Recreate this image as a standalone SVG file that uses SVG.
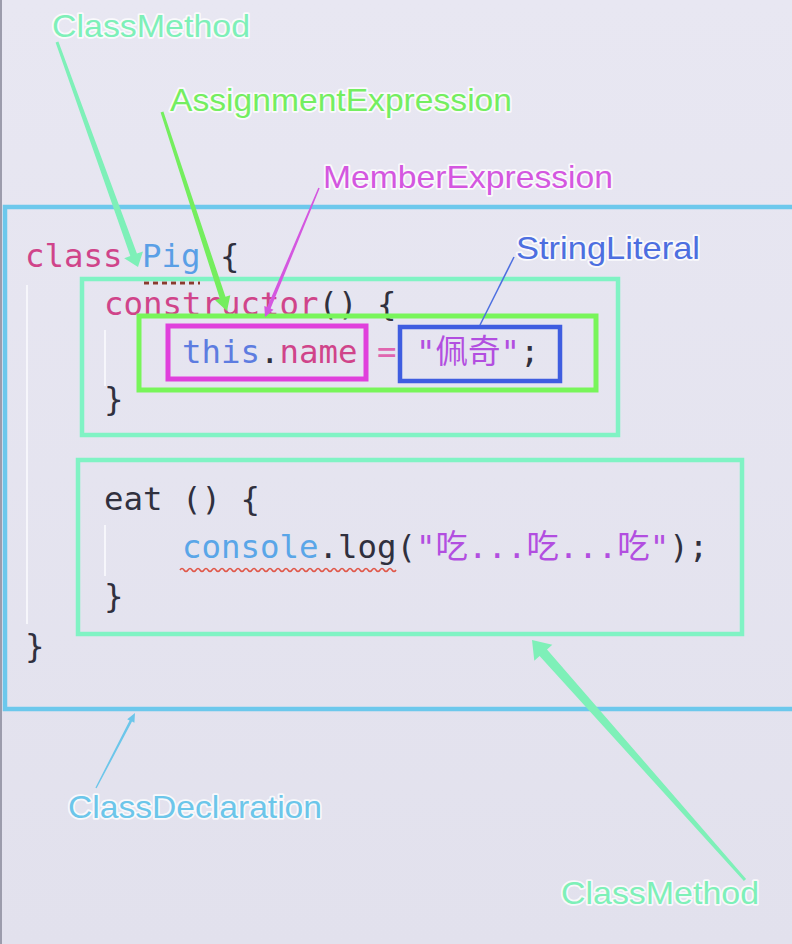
<svg xmlns="http://www.w3.org/2000/svg" width="792" height="944" viewBox="0 0 792 944">
<defs>
<linearGradient id="bg" x1="0" y1="0" x2="0" y2="1">
<stop offset="0" stop-color="#e8e7f2"/>
<stop offset="1" stop-color="#e2e1ed"/>
</linearGradient>
<style>
.code{font-family:"DejaVu Sans Mono","Liberation Mono","Noto Sans CJK SC",monospace;font-size:32.4px;fill:#30303e}
.kw{fill:#d0448a}
.cls{fill:#5a9fe6}
.this{fill:#5d7ce0}
.str{fill:#b24ee0}
.eq{fill:#e066b0}
.con{fill:#5aa6e8}
.lbl{font-family:"Liberation Sans",Arial,sans-serif;font-size:32px;stroke:#ffffff;stroke-width:3.5;stroke-opacity:.8;paint-order:stroke;stroke-linejoin:round}
.box{fill:none}
.guide{stroke:#f6f6fb;stroke-width:2}
</style>
</defs>
<rect x="0" y="0" width="792" height="944" fill="url(#bg)"/>
<line x1="1" y1="0" x2="1" y2="944" stroke="#9c9cac" stroke-width="2"/>

<g id="code">
<line class="guide" x1="27" y1="285" x2="27" y2="624"/>
<line class="guide" x1="105" y1="330" x2="105" y2="386"/>
<line class="guide" x1="105" y1="525" x2="105" y2="576"/>
<line x1="144" y1="283" x2="200" y2="283" stroke="#8b3b2f" stroke-width="3" stroke-dasharray="5,4"/>
<text class="code" x="25" y="267"><tspan class="kw">class</tspan> <tspan class="cls">Pig</tspan> {</text>
<text class="code" x="104" y="315"><tspan class="kw">constructor</tspan>() {</text>
<text class="code" x="182" y="363"><tspan class="this">this</tspan>.<tspan class="kw">name</tspan> <tspan class="eq">=</tspan> <tspan class="str">"佩奇"</tspan>;</text>
<text class="code" x="104" y="410">}</text>
<text class="code" x="104" y="510">eat () {</text>
<text class="code" x="182" y="558"><tspan class="con">console</tspan>.log(<tspan class="str">"吃...吃...吃"</tspan>);</text>
<path d="M180,570 q2,-3 4,0 t4,0 t4,0 t4,0 t4,0 t4,0 t4,0 t4,0 t4,0 t4,0 t4,0 t4,0 t4,0 t4,0 t4,0 t4,0 t4,0 t4,0 t4,0 t4,0 t4,0 t4,0 t4,0 t4,0 t4,0 t4,0 t4,0 t4,0 t4,0 t4,0 t4,0 t4,0 t4,0 t4,0 t4,0 t4,0 t4,0 t4,0 t4,0 t4,0 t4,0 t4,0 t4,0 t4,0 t4,0 t4,0 t4,0 t4,0 t4,0 t4,0 t4,0 t4,0 t4,0 t4,0" fill="none" stroke="#e0584a" stroke-width="1.6"/>
<text class="code" x="104" y="607">}</text>
<text class="code" x="25" y="657">}</text>
</g>

<g id="classDeclaration">
<rect class="box" x="5" y="207" width="800" height="502" stroke="#6cc8ec" stroke-width="4.5"/>
<text class="lbl" x="68" y="818" textLength="254" lengthAdjust="spacingAndGlyphs" fill="#6cc6ea">ClassDeclaration</text>
</g>

<g id="classMethodConstructor">
<rect class="box" x="82" y="279" width="536" height="156" stroke="#80f3c4" stroke-width="4.5"/>
<text class="lbl" x="52" y="37" textLength="198" lengthAdjust="spacingAndGlyphs" fill="#7ef0b8">ClassMethod</text>
</g>

<g id="classMethodEat">
<rect class="box" x="78" y="460" width="664" height="174" stroke="#80f3c4" stroke-width="4.5"/>
<text class="lbl" x="561" y="904" textLength="198" lengthAdjust="spacingAndGlyphs" fill="#7ef0b8">ClassMethod</text>
</g>

<g id="assignmentExpression">
<rect class="box" x="139" y="316" width="457" height="74" stroke="#78f55a" stroke-width="5"/>
<text class="lbl" x="170" y="111" textLength="342" lengthAdjust="spacingAndGlyphs" fill="#74ee60">AssignmentExpression</text>
</g>

<g id="memberExpression">
<rect class="box" x="168" y="326" width="198" height="53" stroke="#e040dc" stroke-width="5"/>
<text class="lbl" x="323" y="188" textLength="290" lengthAdjust="spacingAndGlyphs" fill="#d457e0">MemberExpression</text>
</g>

<g id="stringLiteral">
<rect class="box" x="400" y="327" width="160" height="54" stroke="#3f5de0" stroke-width="4.5"/>
<text class="lbl" x="516" y="259" textLength="184" lengthAdjust="spacingAndGlyphs" fill="#4d6fe0">StringLiteral</text>
</g>

<g id="connectors">
<polygon points="58.4,41.5 136.9,253.6 143.0,251.4 138,267 124.2,258.2 130.3,256.0 55.6,42.5" fill="#7ef0b8"/>
<polygon points="163.4,111.5 225.5,296.8 230.3,295.2 227,311 215.1,300.2 219.8,298.6 160.6,112.5" fill="#74ee5e"/>
<polygon points="319.7,188.3 270.6,308.5 273.5,309.7 265,317 264.3,305.9 267.2,307.1 318.3,187.7" fill="#d457e0"/>
<line x1="514" y1="257" x2="480" y2="325" stroke="#4d6fe0" stroke-width="1.5"/>
<polygon points="96.6,788.3 132.0,721.6 134.4,722.8 135,713 127.2,719.2 129.6,720.4 95.4,787.7" fill="#6cc6ea"/>
<polygon points="746.1,879.0 547.0,649.4 552.3,644.7 532,640 534.3,660.7 539.6,656.0 743.9,881.0" fill="#7ef0b8"/>
</g>
</svg>
